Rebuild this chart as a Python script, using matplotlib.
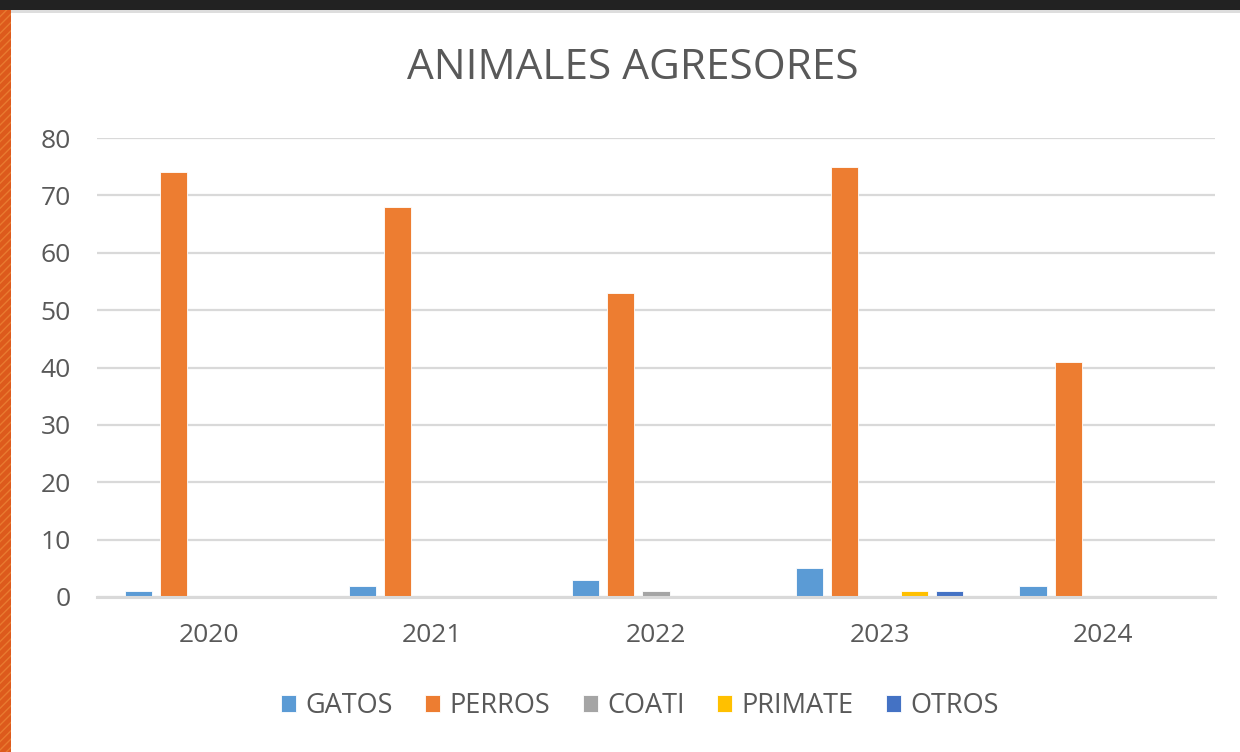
import numpy as np
import matplotlib.pyplot as plt
from matplotlib.patches import Rectangle

# data
years = ["2020", "2021", "2022", "2023", "2024"]
gatos = [1, 2, 3, 5, 2]
perros = [74, 68, 53, 75, 41]
coati = [0, 0, 1, 0, 0]
primate = [0, 0, 0, 1, 0]
otros = [0, 0, 0, 1, 0]

series = ["GATOS", "PERROS", "COATI", "PRIMATE", "OTROS"]
values = [gatos, perros, coati, primate, otros]
colors = ["#5B9BD5", "#ED7D31", "#A5A5A5", "#FFC000", "#4472C4"]

plt.rcParams["font.family"] = ["Open Sans", "DejaVu Sans"]
txt = "#595959"

fig = plt.figure(figsize=(12.4, 7.52), dpi=100, facecolor="white")

# screenshot frame: dark band on top, orange strip on the left
fig.patches.append(Rectangle((0, 1 - 10 / 752), 1, 10 / 752, transform=fig.transFigure,
                             facecolor="#222222", edgecolor="none", zorder=0))
fig.patches.append(Rectangle((0, 0), 11 / 1240, 1 - 10 / 752, transform=fig.transFigure,
                             facecolor="#DD5A1C", edgecolor="#E87A30", hatch="////",
                             linewidth=0, zorder=0))
fig.patches.append(Rectangle((11 / 1240, 1 - 13 / 752), 1, 3 / 752, transform=fig.transFigure,
                             facecolor="#DDDDDD", edgecolor="none", zorder=0))

ax = fig.add_axes([97 / 1240, 1 - 597 / 752, (1215 - 97) / 1240, (597 - 138) / 752])

x = np.arange(len(years))
step = 0.157
width = 0.121
for i, (name, vals, c) in enumerate(zip(series, values, colors)):
    ax.bar(x + (i - 2) * step, vals, width, color=c, label=name,
           edgecolor="white", linewidth=0.6, zorder=3)

ax.set_xlim(-0.5, 4.5)
ax.set_ylim(0, 80)
ax.set_yticks(range(0, 81, 10))
ax.set_xticks(x)
ax.set_xticklabels(years)
ax.grid(axis="y", color="#D9D9D9", linewidth=1.6, zorder=0)
ax.set_axisbelow(True)
for s in ["top", "right", "left"]:
    ax.spines[s].set_visible(False)
ax.spines["bottom"].set_color("#D9D9D9")
ax.spines["bottom"].set_linewidth(2.2)
ax.spines["bottom"].set_zorder(4)
ax.tick_params(axis="y", length=0, pad=19, labelsize=19, labelcolor=txt)
ax.tick_params(axis="x", length=0, pad=19, labelsize=19, labelcolor=txt)

fig.text(0.51, 1 - 68 / 752, "ANIMALES AGRESORES", ha="center", va="center",
         fontsize=30.5, color=txt)

leg = fig.legend(loc="center", bbox_to_anchor=(0.516, 1 - 706 / 752), ncol=5,
                 frameon=False, fontsize=19.5, handlelength=0.55, handleheight=0.55,
                 handletextpad=0.35, columnspacing=1.2)
for t in leg.get_texts():
    t.set_color(txt)

fig.savefig("out.png", dpi=100, facecolor=fig.get_facecolor())
